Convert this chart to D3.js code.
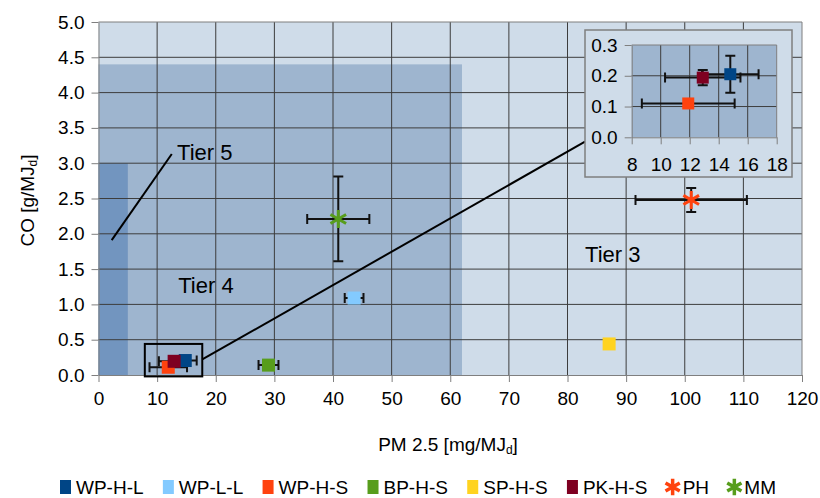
<!DOCTYPE html>
<html>
<head>
<meta charset="utf-8">
<script src="https://cdn.jsdelivr.net/npm/d3@7"></script>
<style>
	body { margin: 0; background: #fff; overflow: hidden; }
	svg { display: block; }
	text { font-family: "Liberation Sans", Arial, sans-serif; fill: #000; }
</style>
</head>
<body>
<svg id="chart"></svg>
<script>
//Series, in legend order.
const series = ['WP-H-L', 'WP-L-L', 'WP-H-S', 'BP-H-S', 'SP-H-S', 'PK-H-S', 'PH', 'MM'];
const colors = ['#004586', '#83caff', '#ff420e', '#579d1c', '#ffd320', '#7e0021', '#ff420e', '#579d1c'];
const shapes = ['square', 'square', 'square', 'square', 'square', 'square', 'asterisk', 'asterisk'];
//PM 2.5 [mg/MJd] and CO [g/MJd], with +/- error.
const pm = [14.8, 43.6, 11.9, 29.0, 87.1, 12.9, 101.1, 40.9];
const pmErr = [1.95, 1.6, 3.2, 1.7, 0, 2.6, 9.5, 5.3];
const co = [0.205, 1.09, 0.11, 0.14, 0.44, 0.194, 2.48, 2.21];
const coErr = [0.06, 0, 0, 0, 0, 0.025, 0.17, 0.6];
//Tier limit areas (PM limit, CO limit), drawn from largest to smallest.
const tiers = ['Tier 3', 'Tier 4', 'Tier 5'];
const tierPM = [120, 62, 5];
const tierCO = [5.0, 4.4, 3.0];
const tierFill = ['#cfdce9', '#9eb5cf', '#7295bf'];
//Ticks.
const xTicks = d3.range(0, 121, 10);
const yTicks = d3.range(0, 5.01, 0.5);
const insetXTicks = [8, 10, 12, 14, 16, 18];
const insetYTicks = [0, 0.1, 0.2, 0.3];

const width = 820, height = 498;
const margin = {top: 22, right: 18, bottom: 123, left: 98.5};
const innerWidth = width - margin.left - margin.right;
const innerHeight = height - margin.top - margin.bottom;
const gridColor = '#3d3d3d';
const axisColor = '#7f7f7f';
const fontFamily = '"Liberation Sans", Arial, sans-serif';

const svg = d3.select('#chart')
	.attr('width', width)
	.attr('height', height);

const x = d3.scaleLinear().domain([0, 120]).range([0, innerWidth]);
const y = d3.scaleLinear().domain([0, 5]).range([innerHeight, 0]);

const g = svg.append('g')
	.attr('transform', `translate(${margin.left}, ${margin.top})`);

//Tier areas.
g.selectAll('rect.tier')
	.data(tiers)
	.join('rect')
	.attr('class', 'tier')
	.attr('x', 0)
	.attr('y', (d, i) => y(tierCO[i]))
	.attr('width', (d, i) => x(tierPM[i]))
	.attr('height', (d, i) => innerHeight - y(tierCO[i]))
	.style('fill', (d, i) => tierFill[i]);

//Grid.
g.selectAll('line.vgrid')
	.data(xTicks.slice(1, -1))
	.join('line')
	.attr('x1', d => x(d)).attr('x2', d => x(d))
	.attr('y1', 0).attr('y2', innerHeight)
	.style('stroke', gridColor).style('stroke-width', 1);
g.selectAll('line.hgrid')
	.data(yTicks.slice(1, -1))
	.join('line')
	.attr('y1', d => y(d)).attr('y2', d => y(d))
	.attr('x1', 0).attr('x2', innerWidth)
	.style('stroke', gridColor).style('stroke-width', 1);
//Frame at top and right.
g.append('path')
	.attr('d', `M0,0H${innerWidth}V${innerHeight}`)
	.style('fill', 'none').style('stroke', axisColor);

//Axes.
function styleAxis(a) {
	a.attr('font-size', 19).attr('font-family', fontFamily);
	a.select('.domain').style('stroke', axisColor);
	a.selectAll('.tick line').style('stroke', axisColor);
	a.selectAll('.tick text').attr('fill', '#000');
}
g.append('g')
	.attr('transform', `translate(0, ${innerHeight})`)
	.call(d3.axisBottom(x).tickValues(xTicks).tickSizeInner(7).tickSizeOuter(0).tickPadding(10))
	.call(styleAxis);
g.append('g')
	.call(d3.axisLeft(y).tickValues(yTicks).tickFormat(d3.format('.1f')).tickSizeInner(7).tickSizeOuter(0).tickPadding(7))
	.call(styleAxis);

//Axis titles.
svg.append('text')
	.attr('x', 448)
	.attr('y', 451)
	.attr('text-anchor', 'middle')
	.style('font-size', '19px')
	.html('PM 2.5 [mg/MJ<tspan font-size="12px" dy="3">d</tspan><tspan dy="-3">]</tspan>');
svg.append('text')
	.attr('transform', `translate(34, ${margin.top + innerHeight / 2 + 2}) rotate(-90)`)
	.attr('text-anchor', 'middle')
	.style('font-size', '19px')
	.html('CO [g/MJ<tspan font-size="12px" dy="3">d</tspan><tspan dy="-3">]</tspan>');

//Tier labels.
g.append('line')
	.attr('x1', x(2.25)).attr('y1', y(1.91))
	.attr('x2', x(12.5)).attr('y2', y(3.13))
	.style('stroke', '#000').style('stroke-width', 2);
const tierLabel = [[13.4, 3.05], [13.6, 1.16], [83, 1.6]];
g.selectAll('text.tierlabel')
	.data(['Tier 5', 'Tier 4', 'Tier 3'])
	.join('text')
	.attr('x', (d, i) => x(tierLabel[i][0]))
	.attr('y', (d, i) => y(tierLabel[i][1]))
	.style('font-size', '22px')
	.text(d => d);

//Points with error bars.
function drawPoints(sel, xs, ys, cap, sqSize, astSize) {
	const idx = d3.range(series.length).filter(i =>
		pm[i] >= xs.domain()[0] && pm[i] <= xs.domain()[1] &&
		co[i] >= ys.domain()[0] && co[i] <= ys.domain()[1]);
	const bars = sel.append('g').style('stroke', '#111').style('stroke-width', 2).style('fill', 'none');
	idx.forEach(i => {
		if (pmErr[i] > 0) {
			const x0 = xs(pm[i] - pmErr[i]), x1 = xs(pm[i] + pmErr[i]), yy = ys(co[i]);
			bars.append('path').attr('d', `M${x0},${yy}H${x1}M${x0},${yy - cap}V${yy + cap}M${x1},${yy - cap}V${yy + cap}`);
		}
		if (coErr[i] > 0) {
			const y0 = ys(co[i] - coErr[i]), y1 = ys(co[i] + coErr[i]), xx = xs(pm[i]);
			bars.append('path').attr('d', `M${xx},${y0}V${y1}M${xx - cap},${y0}H${xx + cap}M${xx - cap},${y1}H${xx + cap}`);
		}
	});
	sel.selectAll(null)
		.data(idx.filter(i => shapes[i] === 'square'))
		.join('rect')
		.attr('x', i => xs(pm[i]) - sqSize / 2)
		.attr('y', i => ys(co[i]) - sqSize / 2)
		.attr('width', sqSize).attr('height', sqSize)
		.style('fill', i => colors[i]);
	sel.selectAll(null)
		.data(idx.filter(i => shapes[i] === 'asterisk'))
		.join('path')
		.attr('transform', i => `translate(${xs(pm[i])}, ${ys(co[i])})`)
		.attr('d', d3.symbol(d3.symbolAsterisk, astSize))
		.style('fill', 'none')
		.style('stroke', i => colors[i])
		.style('stroke-width', 3);
}

//Zoom box around the cluster near the origin, and its pointer to the inset.
g.append('rect')
	.attr('x', x(7.9)).attr('y', y(0.44))
	.attr('width', x(17.7) - x(7.9)).attr('height', y(-0.02) - y(0.44))
	.style('fill', 'none').style('stroke', '#000').style('stroke-width', 2);
g.append('line')
	.attr('x1', x(17.7)).attr('y1', y(0.22))
	.attr('x2', 585 - margin.left).attr('y2', 141.7 - margin.top)
	.style('stroke', '#000').style('stroke-width', 2);

drawPoints(g, x, y, 5, 13, 230);

//Inset.
const inset = {left: 585, top: 30, right: 792, bottom: 177};
const ip = {left: 631.7, top: 45, right: 776.7, bottom: 137.3};
svg.append('rect')
	.attr('x', inset.left).attr('y', inset.top)
	.attr('width', inset.right - inset.left).attr('height', inset.bottom - inset.top)
	.style('fill', tierFill[0]).style('stroke', axisColor).style('stroke-width', 1.5);
const ix = d3.scaleLinear().domain([8, 18]).range([0, ip.right - ip.left]);
const iy = d3.scaleLinear().domain([0, 0.3]).range([ip.bottom - ip.top, 0]);
const ig = svg.append('g').attr('transform', `translate(${ip.left}, ${ip.top})`);
ig.append('rect')
	.attr('width', ix.range()[1]).attr('height', iy.range()[0])
	.style('fill', tierFill[1]);
ig.selectAll('line.vgrid')
	.data(insetXTicks.slice(1, -1))
	.join('line')
	.attr('x1', d => ix(d)).attr('x2', d => ix(d))
	.attr('y1', 0).attr('y2', iy.range()[0])
	.style('stroke', gridColor);
ig.selectAll('line.hgrid')
	.data(insetYTicks.slice(1, -1))
	.join('line')
	.attr('y1', d => iy(d)).attr('y2', d => iy(d))
	.attr('x1', 0).attr('x2', ix.range()[1])
	.style('stroke', gridColor);
ig.append('path')
	.attr('d', `M0,0H${ix.range()[1]}V${iy.range()[0]}`)
	.style('fill', 'none').style('stroke', axisColor);
ig.append('g')
	.attr('transform', `translate(0, ${iy.range()[0]})`)
	.call(d3.axisBottom(ix).tickValues(insetXTicks).tickSizeInner(7).tickSizeOuter(0).tickPadding(13))
	.call(styleAxis);
ig.append('g')
	.call(d3.axisLeft(iy).tickValues(insetYTicks).tickFormat(d3.format('.1f')).tickSizeInner(7).tickSizeOuter(0).tickPadding(7))
	.call(styleAxis);
drawPoints(ig, ix, iy, 5, 12, 200);

//Legend, spread under the chart.
const legendLeft = 60, legendRight = 776;
const items = svg.append('g').selectAll('g')
	.data(series)
	.join('g');
items.append('text')
	.attr('x', 16)
	.attr('y', 494)
	.style('font-size', '19px')
	.text(d => d);
items.each(function(d, i) {
	const it = d3.select(this);
	if (shapes[i] === 'square') {
		it.append('rect')
			.attr('x', 0).attr('y', 480)
			.attr('width', 11).attr('height', 14)
			.style('fill', colors[i]);
	} else {
		it.append('path')
			.attr('transform', 'translate(6, 487)')
			.attr('d', d3.symbol(d3.symbolAsterisk, 190))
			.style('fill', 'none').style('stroke', colors[i]).style('stroke-width', 3.5);
	}
});
const itemWidths = [];
items.each(function() {
	itemWidths.push(16 + this.querySelector('text').getComputedTextLength());
});
const gap = (legendRight - legendLeft - d3.sum(itemWidths)) / (series.length - 1);
let pos = legendLeft;
const offsets = itemWidths.map(w => { const p = pos; pos += w + gap; return p; });
items.attr('transform', (d, i) => `translate(${offsets[i]}, 0)`);
</script>
</body>
</html>
